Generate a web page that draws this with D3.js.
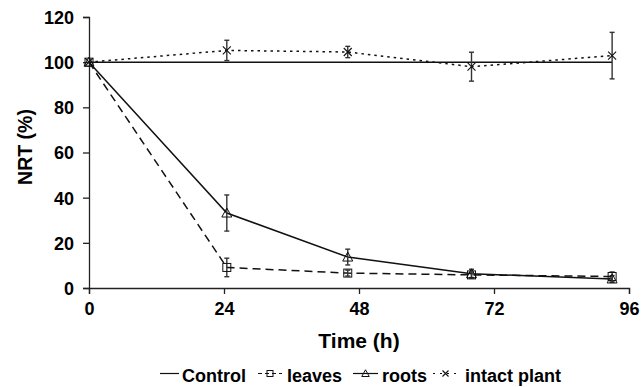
<!DOCTYPE html>
<html>
<head>
<meta charset="utf-8">
<script src="https://cdn.jsdelivr.net/npm/d3@7"></script>
<style>
  body { margin: 0; background: #fff; }
  text { font-family: "Liberation Sans", Arial, sans-serif; font-weight: bold; fill: #000; }
</style>
</head>
<body>
<div id="chart"></div>
<script>
// time points (h)
const times = [0, 24.5, 46, 68, 93];
const xTicks = [0, 24, 48, 72, 96];
const yTicks = [0, 20, 40, 60, 80, 100, 120];

const control = [100, 100, 100, 100, 100];
const leaves = [100, 9.1, 6.6, 5.8, 5.1];
const leavesErr = [0, 4.1, 1.3, 1.2, 2];
const roots = [100, 33.2, 13.7, 6.3, 4];
const rootsErr = [0, 8, 3.5, 2, 1.5];
const intact = [100, 105.2, 104.5, 98, 102.9];
const intactErr = [0, 4.5, 2.5, 6.4, 10.3];

const width = 641, height = 387;
const margin = { top: 17, right: 12, bottom: 99, left: 89 };

const svg = d3.select("#chart").append("svg")
  .attr("width", width)
  .attr("height", height);

const x = d3.scaleLinear().domain([0, 96]).range([margin.left, width - margin.right]);
const y = d3.scaleLinear().domain([0, 120]).range([height - margin.bottom, margin.top]);

// axes
const xAxis = svg.append("g")
  .attr("transform", `translate(0, ${y(0)})`)
  .call(d3.axisBottom(x).tickValues(xTicks).tickSize(6).tickPadding(8));
const yAxis = svg.append("g")
  .attr("transform", `translate(${x(0)}, 0)`)
  .call(d3.axisLeft(y).tickValues(yTicks).tickSize(6).tickPadding(9));

[xAxis, yAxis].forEach(g => {
  g.attr("font-size", 18);
  g.select(".domain").attr("stroke", "#222").attr("stroke-width", 1.3);
  g.selectAll(".tick line").attr("stroke", "#222").attr("stroke-width", 1.3);
  g.selectAll(".tick text").attr("fill", "#000");
});
yAxis.selectAll(".tick text").attr("dy", "0.36em");

svg.append("text")
  .attr("x", (x(0) + x(96)) / 2)
  .attr("y", 348)
  .attr("text-anchor", "middle")
  .attr("font-size", 21)
  .text("Time (h)");

svg.append("text")
  .attr("transform", "translate(32, 147) rotate(-90)")
  .attr("text-anchor", "middle")
  .attr("font-size", 19.5)
  .text("NRT (%)");

const series = [
  { name: "Control", values: control, err: null, dash: null, marker: null },
  { name: "leaves", values: leaves, err: leavesErr, dash: "8,5", marker: "square" },
  { name: "roots", values: roots, err: rootsErr, dash: null, marker: "triangle" },
  { name: "intact plant", values: intact, err: intactErr, dash: "2.5,4", marker: "cross" }
];

const line = d3.line()
  .x(d => x(d.t))
  .y(d => y(d.v));

// r = half size of the marker
function drawMarker(g, type, cx, cy, r = 4) {
  if (type === "square") {
    g.append("rect")
      .attr("x", cx - r).attr("y", cy - r)
      .attr("width", 2 * r).attr("height", 2 * r)
      .attr("fill", "#fff").attr("fill-opacity", 0).attr("stroke", "#111").attr("stroke-width", 1);
  } else if (type === "triangle") {
    g.append("path")
      .attr("d", `M${cx},${cy - r * 1.25}L${cx + r * 1.25},${cy + r}L${cx - r * 1.25},${cy + r}Z`)
      .attr("fill", "none").attr("stroke", "#111").attr("stroke-width", 1);
  } else if (type === "cross") {
    g.append("path")
      .attr("d", `M${cx - r},${cy - r}L${cx + r},${cy + r}M${cx - r},${cy + r}L${cx + r},${cy - r}`)
      .attr("fill", "none").attr("stroke", "#111").attr("stroke-width", 1.1);
  }
}

const plot = svg.append("g");

series.forEach(s => {
  const pts = times.map((t, i) => ({ t, v: s.values[i], e: s.err ? s.err[i] : 0 }));
  plot.append("path")
    .datum(pts)
    .attr("fill", "none")
    .attr("stroke", "#111")
    .attr("stroke-width", 1.5)
    .attr("stroke-dasharray", s.dash)
    .attr("d", line);

  if (s.err) {
    pts.forEach(p => {
      if (p.e <= 0) return;
      const cx = x(p.t);
      const g = plot.append("g").attr("stroke", "#333").attr("stroke-width", 1.4);
      g.append("line").attr("x1", cx).attr("x2", cx).attr("y1", y(p.v - p.e)).attr("y2", y(p.v + p.e));
      g.append("line").attr("x1", cx - 2.5).attr("x2", cx + 2.5).attr("y1", y(p.v - p.e)).attr("y2", y(p.v - p.e));
      g.append("line").attr("x1", cx - 2.5).attr("x2", cx + 2.5).attr("y1", y(p.v + p.e)).attr("y2", y(p.v + p.e));
    });
  }
  if (s.marker) {
    pts.forEach(p => drawMarker(plot, s.marker, x(p.t), y(p.v)));
  }
});

// legend
const legendY = 382;
const legendItems = [
  { s: series[0], x0: 160, len: 19, tx: 182 },
  { s: series[1], x0: 258, len: 24, tx: 287 },
  { s: series[2], x0: 353, len: 25, tx: 382 },
  { s: series[3], x0: 433, len: 25, tx: 465 }
];
const legend = svg.append("g");
legendItems.forEach(it => {
  legend.append("line")
    .attr("x1", it.x0).attr("x2", it.x0 + it.len)
    .attr("y1", legendY - 8.5).attr("y2", legendY - 8.5)
    .attr("stroke", "#111").attr("stroke-width", 1.2)
    .attr("stroke-dasharray", it.s.dash ? (it.s.marker === "cross" ? "2,5" : "4,3") : null);
  if (it.s.marker) drawMarker(legend, it.s.marker, it.x0 + it.len / 2, legendY - 8.5, 3);
  legend.append("text")
    .attr("x", it.tx).attr("y", legendY)
    .attr("font-size", 18)
    .text(it.s.name);
});
</script>
</body>
</html>
